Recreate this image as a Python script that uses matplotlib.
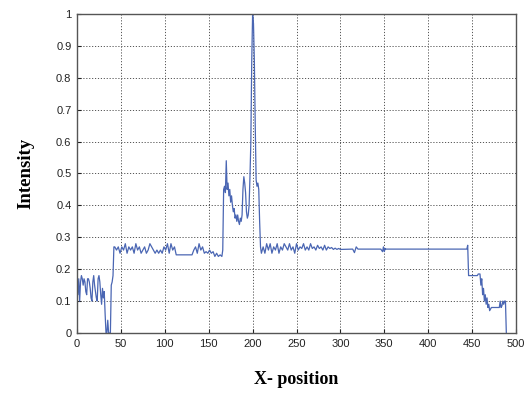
import numpy as np
import matplotlib
matplotlib.use("Agg")
import matplotlib.pyplot as plt

# --- data ---
left_x = [0, 1, 2, 3, 4, 5, 6, 7, 8, 9, 10, 11, 12, 13, 14, 15, 16, 17, 18, 19, 20,
          21, 22, 23, 24, 25, 26, 27, 28, 29, 30, 31, 32, 33, 34, 35, 36, 37, 38, 39, 40, 41, 42]
left_y = [0.15, 0.12, 0.17, 0.10, 0.16, 0.18, 0.17, 0.15, 0.17, 0.16, 0.13, 0.12, 0.17, 0.17,
          0.16, 0.14, 0.11, 0.10, 0.16, 0.18, 0.15, 0.13, 0.11, 0.10, 0.17, 0.18, 0.16, 0.12,
          0.09, 0.14, 0.11, 0.13, 0.06, 0.0, 0.0, 0.04, 0.0, 0.0, 0.0, 0.15, 0.16, 0.18, 0.27]

plateau1_x = [43, 45, 47, 49, 51, 53, 55, 57, 59, 61, 63, 65, 67, 69, 71, 73, 75, 77, 79, 81,
              83, 85, 87, 89, 91, 93, 95, 97, 99, 101, 103, 105, 107, 109, 111, 113, 131, 133,
              135, 137, 139, 141, 143, 145, 147, 149, 151, 153, 155, 157, 159, 161, 163, 165]
plateau1_y = [0.27, 0.26, 0.27, 0.25, 0.27, 0.26, 0.28, 0.25, 0.27, 0.26, 0.27, 0.25, 0.28,
              0.26, 0.27, 0.25, 0.26, 0.27, 0.25, 0.26, 0.28, 0.27, 0.26, 0.25, 0.26, 0.25,
              0.26, 0.25, 0.27, 0.26, 0.28, 0.25, 0.28, 0.26, 0.27, 0.245, 0.245, 0.26, 0.27,
              0.25, 0.28, 0.26, 0.27, 0.25, 0.255, 0.25, 0.26, 0.25, 0.255, 0.24, 0.25, 0.24,
              0.245, 0.24]

peak_x = [166, 167, 168, 169, 170, 171, 172, 173, 174, 175, 176, 177, 178, 179, 180, 181,
          182, 183, 184, 185, 186, 187, 188, 189, 190, 191, 192, 193, 194, 195, 196, 197,
          198, 199, 200, 201, 202, 203, 204, 205, 206, 207, 208, 209, 210]
peak_y = [0.26, 0.45, 0.46, 0.44, 0.54, 0.45, 0.47, 0.43, 0.45, 0.41, 0.43, 0.40, 0.38,
          0.39, 0.36, 0.37, 0.35, 0.37, 0.35, 0.34, 0.36, 0.35, 0.37, 0.45, 0.49, 0.47,
          0.44, 0.38, 0.36, 0.37, 0.40, 0.49, 0.60, 0.85, 1.0, 0.97, 0.85, 0.65, 0.48,
          0.46, 0.47, 0.45, 0.35, 0.27, 0.25]

plateau2_x = [212, 214, 216, 218, 220, 222, 224, 226, 228, 230, 232, 234, 236, 238, 240,
              242, 244, 246, 248, 250, 252, 254, 256, 258, 260, 262, 264, 266, 268, 270,
              272, 274, 276, 278, 280, 282, 284, 286, 288, 290, 292, 294, 296, 298, 300,
              314, 316, 318, 320, 346, 348, 349, 350, 351, 352, 444, 445]
plateau2_y = [0.27, 0.25, 0.28, 0.26, 0.28, 0.25, 0.27, 0.26, 0.28, 0.25, 0.27, 0.26, 0.28,
              0.27, 0.26, 0.28, 0.26, 0.27, 0.25, 0.28, 0.26, 0.27, 0.265, 0.28, 0.26, 0.27,
              0.26, 0.28, 0.265, 0.27, 0.26, 0.275, 0.265, 0.27, 0.26, 0.275, 0.26, 0.27,
              0.265, 0.268, 0.262, 0.266, 0.262, 0.265, 0.262, 0.263, 0.252, 0.27, 0.263,
              0.263, 0.255, 0.27, 0.255, 0.265, 0.263, 0.263, 0.275]

tail_x = [446, 456, 457, 459, 460, 461, 462, 463, 464, 465, 466, 467, 468, 469, 470, 472,
          481, 482, 483, 484, 485, 486, 487, 488, 489]
tail_y = [0.18, 0.18, 0.185, 0.185, 0.15, 0.17, 0.12, 0.14, 0.10, 0.12, 0.09, 0.11, 0.08,
          0.09, 0.07, 0.08, 0.08, 0.10, 0.08, 0.085, 0.10, 0.09, 0.10, 0.10, 0.0]

x_ticks = [0, 50, 100, 150, 200, 250, 300, 350, 400, 450, 500]
y_ticks = [0, 0.1, 0.2, 0.3, 0.4, 0.5, 0.6, 0.7, 0.8, 0.9, 1]

xs = np.concatenate([left_x, plateau1_x, peak_x, plateau2_x, tail_x])
ys = np.concatenate([left_y, plateau1_y, peak_y, plateau2_y, tail_y])

fig = plt.figure(figsize=(5.29, 3.94), dpi=100)
ax = fig.add_axes([0.1456, 0.1548, 0.8298, 0.8097])
ax.plot(xs, ys, color='#4a66b3', linewidth=0.9)

ax.set_xlim(0, 500)
ax.set_ylim(0, 1)
ax.set_xticks(x_ticks)
ax.set_yticks(y_ticks)
ax.set_xticklabels([str(v) for v in x_ticks])
ax.set_yticklabels(['0', '0.1', '0.2', '0.3', '0.4', '0.5', '0.6', '0.7', '0.8', '0.9', '1'])
ax.grid(True, color='#555555', linestyle=(0, (1.2, 1.8)), linewidth=0.7)
ax.tick_params(direction='in', length=3, labelsize=8, colors='#222222', pad=4)
for lbl in ax.get_xticklabels() + ax.get_yticklabels():
    lbl.set_family(['Liberation Sans', 'DejaVu Sans'])
for s in ax.spines.values():
    s.set_color('#555555')
    s.set_linewidth(1.0)

ax.set_xlabel('X- position', fontsize=13, fontweight='bold',
              family=['Liberation Serif', 'DejaVu Serif'], labelpad=16)
ax.set_ylabel('Intensity', fontsize=13.5, fontweight='bold',
              family=['Liberation Serif', 'DejaVu Serif'], labelpad=16)

fig.savefig('out.png', dpi=100)
